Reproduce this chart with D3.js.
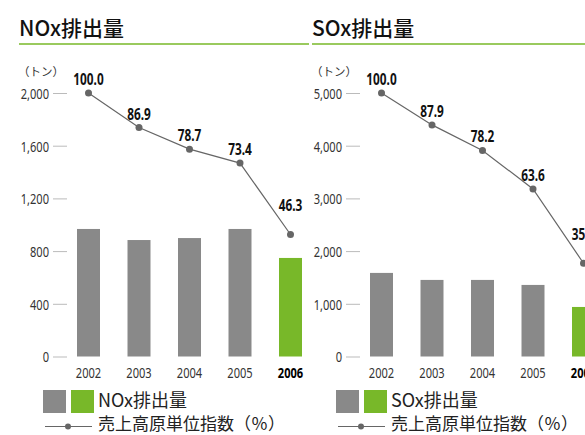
<!DOCTYPE html>
<html>
<head>
<meta charset="utf-8">
<script src="https://cdn.jsdelivr.net/npm/d3@7"></script>
<style>
  body { margin: 0; background: #fff; }
  svg { display: block; }
  .tick text { font-family: "Noto Sans", "DejaVu Sans", sans-serif; font-size: 15px; fill: #333; }
  .tick line { stroke: #bbb; }
</style>
</head>
<body>
<svg width="585" height="435"></svg>
<script>
document.addEventListener("DOMContentLoaded", function () {

  var years = ["2002", "2003", "2004", "2005", "2006"];

  var noxValues = [968, 884, 899, 968, 748];
  var noxIndex = [100.0, 86.9, 78.7, 73.4, 46.3];
  var noxTicks = [0, 400, 800, 1200, 1600, 2000];

  var soxValues = [1586, 1453, 1453, 1358, 940];
  var soxIndex = [100.0, 87.9, 78.2, 63.6, 35.4];
  var soxTicks = [0, 1000, 2000, 3000, 4000, 5000];

  var gray = "#898989";
  var green = "#78b829";
  var narrow = "'Noto Sans', 'DejaVu Sans', sans-serif";
  var jp = "'Noto Sans CJK JP', 'Noto Sans', sans-serif";
  var squeeze = 0.74;   // fake a condensed face

  var svg = d3.select("svg");

  drawPanel(0, "NOx排出量", noxValues, noxIndex, noxTicks);
  drawPanel(293, "SOx排出量", soxValues, soxIndex, soxTicks);

  function place(x, y) {
    return "translate(" + x + "," + y + ") scale(" + squeeze + ",1)";
  }

  function drawPanel(offset, title, values, index, ticks) {
    var g = svg.append("g").attr("transform", "translate(" + offset + ",0)");

    var xScale = d3.scalePoint().domain(years).range([88.5, 290.5]);
    var yScale = d3.scaleLinear().domain([0, d3.max(ticks)]).range([356.5, 93]);
    var iScale = d3.scaleLinear().domain([0, 100]).range([356.5, 93]);

    // title + green rule
    g.append("text")
      .attr("x", 19).attr("y", 36)
      .attr("font-family", jp).attr("font-size", 21).attr("font-weight", 500)
      .attr("fill", "#111")
      .text(title);
    g.append("line")
      .attr("x1", 19).attr("x2", 309)
      .attr("y1", 44).attr("y2", 44)
      .attr("stroke", green).attr("stroke-width", 1.5);

    // unit
    g.append("text")
      .attr("x", 18).attr("y", 76)
      .attr("font-family", jp).attr("font-size", 11.5)
      .attr("fill", "#333")
      .text("（トン）");

    var yAxis = d3.axisLeft(yScale)
      .tickValues(ticks).tickSize(14).tickPadding(4)
      .tickFormat(d3.format(","));
    g.append("g").attr("transform", "translate(67,0)").call(yAxis)
      .call(function (a) {
        a.select(".domain").remove();
        a.selectAll(".tick text")
          .attr("x", -18 / squeeze)
          .attr("dy", "0.36em")
          .attr("transform", "scale(" + squeeze + ",1)");
      });

    // bars
    g.selectAll("rect.bar").data(values).enter().append("rect")
      .attr("class", "bar")
      .attr("x", function (d, i) { return xScale(years[i]) - 11.5; })
      .attr("width", 23)
      .attr("y", function (d) { return yScale(d); })
      .attr("height", function (d) { return yScale(0) - yScale(d); })
      .attr("fill", function (d, i) { return i === values.length - 1 ? green : gray; });

    // index line
    var line = d3.line()
      .x(function (d, i) { return xScale(years[i]); })
      .y(function (d) { return iScale(d); });
    g.append("path")
      .attr("d", line(index))
      .attr("fill", "none")
      .attr("stroke", "#666").attr("stroke-width", 1.2);
    g.selectAll("circle.pt").data(index).enter().append("circle")
      .attr("class", "pt")
      .attr("cx", function (d, i) { return xScale(years[i]); })
      .attr("cy", function (d) { return iScale(d); })
      .attr("r", 3.5)
      .attr("fill", "#666");
    g.selectAll("text.val").data(index).enter().append("text")
      .attr("class", "val")
      .attr("transform", function (d, i) {
        return place(xScale(years[i]), iScale(d) + (i === index.length - 1 ? -23 : -8));
      })
      .attr("text-anchor", "middle")
      .attr("font-family", narrow)
      .attr("font-size", 16).attr("font-weight", "bold")
      .attr("fill", "#111")
      .text(function (d) { return d.toFixed(1); });

    // year labels
    g.selectAll("text.year").data(years).enter().append("text")
      .attr("class", "year")
      .attr("transform", function (d) { return place(xScale(d), 378); })
      .attr("text-anchor", "middle")
      .attr("font-family", narrow).attr("font-size", 15)
      .attr("font-weight", function (d, i) { return i === years.length - 1 ? "bold" : "normal"; })
      .attr("fill", function (d, i) { return i === years.length - 1 ? "#000" : "#333"; })
      .text(function (d) { return d; });

    // legend
    g.append("rect").attr("x", 43).attr("y", 390).attr("width", 23).attr("height", 23).attr("fill", gray);
    g.append("rect").attr("x", 71).attr("y", 390).attr("width", 23).attr("height", 23).attr("fill", green);
    g.append("text")
      .attr("x", 98).attr("y", 407)
      .attr("font-family", jp).attr("font-size", 18).attr("fill", "#222")
      .text(title);
    g.append("line")
      .attr("x1", 45).attr("x2", 92).attr("y1", 426.5).attr("y2", 426.5)
      .attr("stroke", "#666").attr("stroke-width", 1.2);
    g.append("circle").attr("cx", 68).attr("cy", 426.5).attr("r", 3).attr("fill", "#666");
    g.append("text")
      .attr("x", 98).attr("y", 430)
      .attr("font-family", jp).attr("font-size", 17).attr("fill", "#222")
      .text("売上高原単位指数（％）");
  }

});
</script>
</body>
</html>
